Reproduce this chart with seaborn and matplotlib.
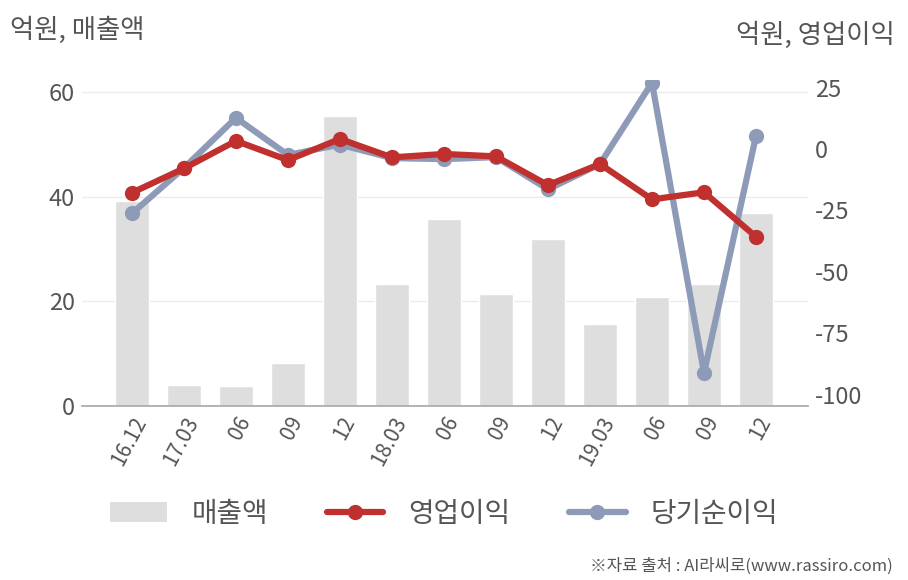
import numpy as np
import pandas as pd
import matplotlib
matplotlib.use("Agg")
import matplotlib.pyplot as plt
import seaborn as sns
from matplotlib.patches import Patch
from matplotlib.lines import Line2D

quarters = ["16.12", "17.03", "06", "09", "12", "18.03", "06", "09", "12", "19.03", "06", "09", "12"]
sales = [39.2, 4.0, 3.8, 8.2, 55.4, 23.3, 35.7, 21.4, 31.9, 15.7, 20.8, 23.3, 36.9]
op_profit = [-17.8, -7.9, 3.3, -4.5, 4.1, -3.4, -2.0, -3.0, -14.7, -6.1, -20.5, -17.6, -35.7]
net_profit = [-26.2, -7.7, 12.7, -2.4, 1.8, -3.7, -4.1, -3.3, -16.4, -6.1, 27.0, -91.1, 5.3]
left_ticks = [0, 20, 40, 60]
right_ticks = [25, 0, -25, -50, -75, -100]

sns.set_theme(style="white")
plt.rcParams["font.family"] = ["Noto Sans CJK KR", "DejaVu Sans"]

TXT = "#555555"
BAR = "#dedede"
RED = "#c0302e"
BLUE = "#8e9bb8"

fig = plt.figure(figsize=(9.08, 5.80), dpi=100)
ax = fig.add_axes([82/908, 1 - 406/580, (808-82)/908, (406-80)/580])

n = len(quarters)
idx = np.arange(n)
df = pd.DataFrame({"pos": idx, "sales": sales, "op": op_profit, "net": net_profit})

sns.barplot(data=df, x="pos", y="sales", color=BAR, width=0.65, ax=ax, saturation=1, native_scale=True)
ax.set_ylim(0, 62.3)
ax.set_xlim(-0.96, 13.0)
ax.set_yticks(left_ticks)
ax.set_yticklabels([str(t) for t in left_ticks], fontsize=17, color=TXT)
ax.grid(axis="y", color="#ebebeb", linewidth=1)
ax.set_axisbelow(True)
for s in ["left", "right", "top"]:
    ax.spines[s].set_visible(False)
ax.spines["bottom"].set_color("#aaaaaa")
ax.set_xticks(idx)
ax.set_xticklabels(quarters, rotation=62, ha="right", rotation_mode="anchor", fontsize=15, color=TXT)
ax.tick_params(axis="both", length=0, pad=5)
ax.set_xlabel("")
ax.set_ylabel("")

ax2 = ax.twinx()
sns.lineplot(data=df, x="pos", y="net", color=BLUE, linewidth=4.5, marker="o", markersize=11,
             markeredgewidth=0, ax=ax2, zorder=3)
sns.lineplot(data=df, x="pos", y="op", color=RED, linewidth=4.5, marker="o", markersize=11,
             markeredgewidth=0, ax=ax2, zorder=4)
ax2.set_ylim(-104.6, 28.1)
ax2.set_xlim(-0.96, 13.0)
ax2.set_yticks(right_ticks)
ax2.set_yticklabels([str(t) for t in right_ticks], fontsize=17, color=TXT)
ax2.tick_params(axis="y", length=0, pad=5)
ax2.grid(False)
for s in ["left", "right", "top", "bottom"]:
    ax2.spines[s].set_visible(False)
ax2.set_xlabel("")
ax2.set_ylabel("")

fig.text(10/908, 1 - 30/580, "억원, 매출액", fontsize=19, color=TXT, va="center", ha="left")
fig.text(895/908, 1 - 35/580, "억원, 영업이익", fontsize=19, color=TXT, va="center", ha="right")
fig.text(893/908, 1 - 566/580, "※자료 출처 : AI라씨로(www.rassiro.com)", fontsize=12, color=TXT,
         va="center", ha="right")

handles = [
    Patch(facecolor=BAR, edgecolor="none"),
    Line2D([0], [0], color=RED, linewidth=4.5, marker="o", markersize=11, markeredgewidth=0),
    Line2D([0], [0], color=BLUE, linewidth=4.5, marker="o", markersize=11, markeredgewidth=0),
]
leg = fig.legend(handles, ["매출액", "영업이익", "당기순이익"], loc="center", bbox_to_anchor=(0.489, 1 - 514/580),
                 ncol=3, frameon=False, fontsize=20, handlelength=2.05, handleheight=0.75,
                 columnspacing=2.1, handletextpad=0.9)
for t in leg.get_texts():
    t.set_color(TXT)

fig.savefig("out.png", dpi=100)
